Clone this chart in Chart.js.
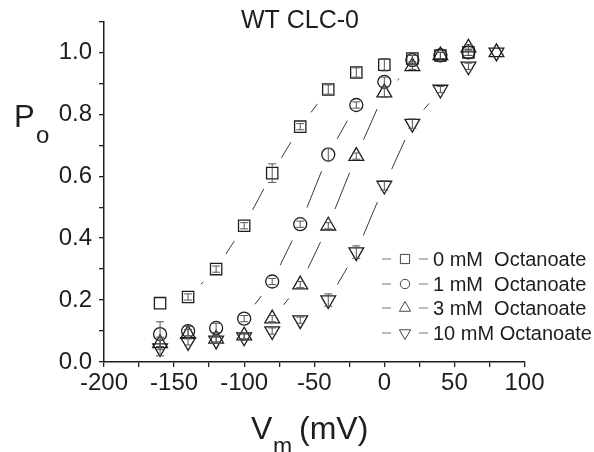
<!DOCTYPE html>
<html>
<head>
<meta charset="utf-8">
<script src="https://cdn.jsdelivr.net/npm/chart.js@4/dist/chart.umd.min.js"></script>
<style>
  html, body { margin: 0; padding: 0; background: #fff; }
  #wrap { width: 594px; height: 452px; }
</style>
</head>
<body>
<div id="wrap"><canvas id="poChart" width="594" height="452"></canvas></div>
<script>
// membrane potential (mV) and open probability for each octanoate concentration
const voltages = [-160, -140, -120, -100, -80, -60, -40, -20, 0, 20, 40, 60, 80];
const po0mM  = [0.19, 0.21, 0.30, 0.44, 0.61, 0.76, 0.88, 0.935, 0.96, 0.98, 0.99, 1.0, null];
const po1mM  = [0.09, 0.10, 0.11, 0.14, 0.26, 0.445, 0.67, 0.83, 0.905, 0.975, 0.99, 1.0, null];
const po3mM  = [0.06, 0.09, 0.075, 0.085, 0.14, 0.25, 0.44, 0.665, 0.87, 0.955, 0.99, 1.015, 1.0];
const po10mM = [0.045, 0.065, 0.07, 0.08, 0.10, 0.135, 0.20, 0.355, 0.57, 0.77, 0.88, 0.955, 1.0];
// error bars (± SEM)
const err0mM  = [0, 0.01, 0.01, 0.01, 0.03, 0.01, 0.015, 0.015, 0.02, 0.01, 0.01, 0.01, 0];
const err1mM  = [0.04, 0.015, 0.015, 0.01, 0.01, 0.01, 0.02, 0.01, 0.015, 0.015, 0.01, 0.01, 0];
const err3mM  = [0.02, 0.015, 0.01, 0.01, 0.01, 0.01, 0.01, 0.01, 0.015, 0.01, 0.01, 0.01, 0];
const err10mM = [0.025, 0.01, 0.01, 0.01, 0.01, 0.01, 0.02, 0.02, 0.015, 0.015, 0.01, 0.01, 0];
const seriesLabels = ['0 mM  Octanoate', '1 mM  Octanoate', '3 mM  Octanoate', '10 mM Octanoate'];
const xTickLabels = [-200, -150, -100, -50, 0, 50, 100];
const yTickLabels = ['0.0', '0.2', '0.4', '0.6', '0.8', '1.0'];

const FONT = '"Liberation Sans", Arial, sans-serif';
const INK = '#1e1e1e';

function pts(ys) {
  return voltages.map((v, i) => ({ x: v, y: ys[i] }));
}

// line stops short of each symbol, like the original plot
const GAP = 18;
function gapDash(ctx) {
  const a = ctx.p0, b = ctx.p1;
  const L = Math.hypot(b.x - a.x, b.y - a.y);
  if (L <= 2 * GAP + 1) return [0, 10000];
  return [0, GAP, L - 2 * GAP, 10000];
}

function makeSet(label, ys, errs, style, size, rot) {
  return {
    label: label,
    data: pts(ys),
    errors: errs,
    showLine: true,
    borderColor: '#3a3a3a',
    borderWidth: 1,
    backgroundColor: 'rgba(255,255,255,0)',
    pointStyle: style,
    pointRadius: size,
    pointRotation: rot,
    pointBorderColor: INK,
    pointBackgroundColor: 'rgba(255,255,255,0)',
    pointBorderWidth: 1.3,
    segment: { borderDash: gapDash }
  };
}

const errorBars = {
  id: 'errorBars',
  afterDatasetsDraw(chart) {
    const ctx = chart.ctx;
    const y = chart.scales.y;
    ctx.save();
    ctx.strokeStyle = '#555';
    ctx.lineWidth = 1;
    chart.data.datasets.forEach((ds, di) => {
      const meta = chart.getDatasetMeta(di);
      meta.data.forEach((p, i) => {
        const v = ds.data[i].y, e = ds.errors[i];
        if (v == null || !e) return;
        const top = y.getPixelForValue(v + e), bot = y.getPixelForValue(v - e);
        ctx.beginPath();
        ctx.moveTo(p.x, top); ctx.lineTo(p.x, bot);
        ctx.moveTo(p.x - 4, top); ctx.lineTo(p.x + 4, top);
        ctx.moveTo(p.x - 4, bot); ctx.lineTo(p.x + 4, bot);
        ctx.stroke();
      });
    });
    ctx.restore();
  }
};

// titles with subscripts and the inset legend
const annotations = {
  id: 'annotations',
  afterDraw(chart) {
    const ctx = chart.ctx;
    ctx.save();
    ctx.fillStyle = INK;
    ctx.textBaseline = 'alphabetic';

    ctx.textAlign = 'center';
    ctx.font = '25px ' + FONT;
    ctx.fillText('WT CLC-0', 300, 28);

    ctx.textAlign = 'left';
    ctx.font = '31px ' + FONT;
    ctx.fillText('P', 14, 127);
    ctx.font = '24px ' + FONT;
    ctx.fillText('o', 36, 143);

    ctx.font = '32px ' + FONT;
    ctx.fillText('V', 251, 439);
    ctx.font = '23px ' + FONT;
    ctx.fillText('m', 273, 454);
    ctx.font = '32px ' + FONT;
    ctx.fillText('(mV)', 299, 439);

    // legend
    const rowY = [259, 284, 308, 333];
    const legSize = [6.5, 4.7, 6.5, 6.5];
    chart.data.datasets.forEach((ds, i) => {
      const cy = rowY[i];
      ctx.strokeStyle = '#777';
      ctx.lineWidth = 1;
      ctx.beginPath();
      ctx.moveTo(382, cy); ctx.lineTo(391, cy);
      ctx.moveTo(419, cy); ctx.lineTo(428, cy);
      ctx.stroke();
      ctx.strokeStyle = '#444';
      ctx.fillStyle = 'rgba(255,255,255,0)';
      Chart.helpers.drawPoint(ctx, {
        pointStyle: ds.pointStyle,
        radius: legSize[i],
        rotation: ds.pointRotation,
        borderWidth: 1
      }, 405, cy);
      ctx.fillStyle = INK;
      ctx.font = '20px ' + FONT;
      ctx.textBaseline = 'middle';
      ctx.fillText(seriesLabels[i], 433, cy + 1);
    });
    ctx.restore();
  }
};

const ctx = document.getElementById('poChart').getContext('2d');
new Chart(ctx, {
  type: 'scatter',
  data: {
    datasets: [
      makeSet(seriesLabels[0], po0mM, err0mM, 'rect', 8, 0),
      makeSet(seriesLabels[1], po1mM, err1mM, 'circle', 6.5, 0),
      makeSet(seriesLabels[2], po3mM, err3mM, 'triangle', 8.5, 0),
      makeSet(seriesLabels[3], po10mM, err10mM, 'triangle', 8.5, 180)
    ]
  },
  options: {
    responsive: false,
    animation: false,
    devicePixelRatio: 1,
    layout: { padding: { left: 0, right: 69.5, top: 18.5, bottom: 0 } },
    plugins: {
      legend: { display: false },
      tooltip: { enabled: false }
    },
    scales: {
      x: {
        type: 'linear',
        min: -200,
        max: 100,
        afterFit: s => { s.height = 90; },
        ticks: {
          stepSize: 25,
          autoSkip: false,
          maxRotation: 0,
          padding: 2,
          color: INK,
          font: { family: FONT, size: 24 },
          callback: v => xTickLabels.includes(v) ? String(v) : ''
        },
        grid: { drawOnChartArea: false, drawTicks: true, tickLength: 5, color: INK, lineWidth: 1.3 },
        border: { display: true, color: INK, width: 1.5 }
      },
      y: {
        type: 'linear',
        min: 0,
        max: 1.1,
        afterFit: s => { s.width = 104; },
        ticks: {
          stepSize: 0.1,
          autoSkip: false,
          padding: 7,
          color: INK,
          font: { family: FONT, size: 24 },
          callback: v => {
            const t = Math.round(v * 10);
            return t % 2 === 0 ? yTickLabels[t / 2] : '';
          }
        },
        grid: { drawOnChartArea: false, drawTicks: true, tickLength: 5, color: INK, lineWidth: 1.3 },
        border: { display: true, color: INK, width: 1.5 }
      }
    }
  },
  plugins: [errorBars, annotations]
});
</script>
</body>
</html>
